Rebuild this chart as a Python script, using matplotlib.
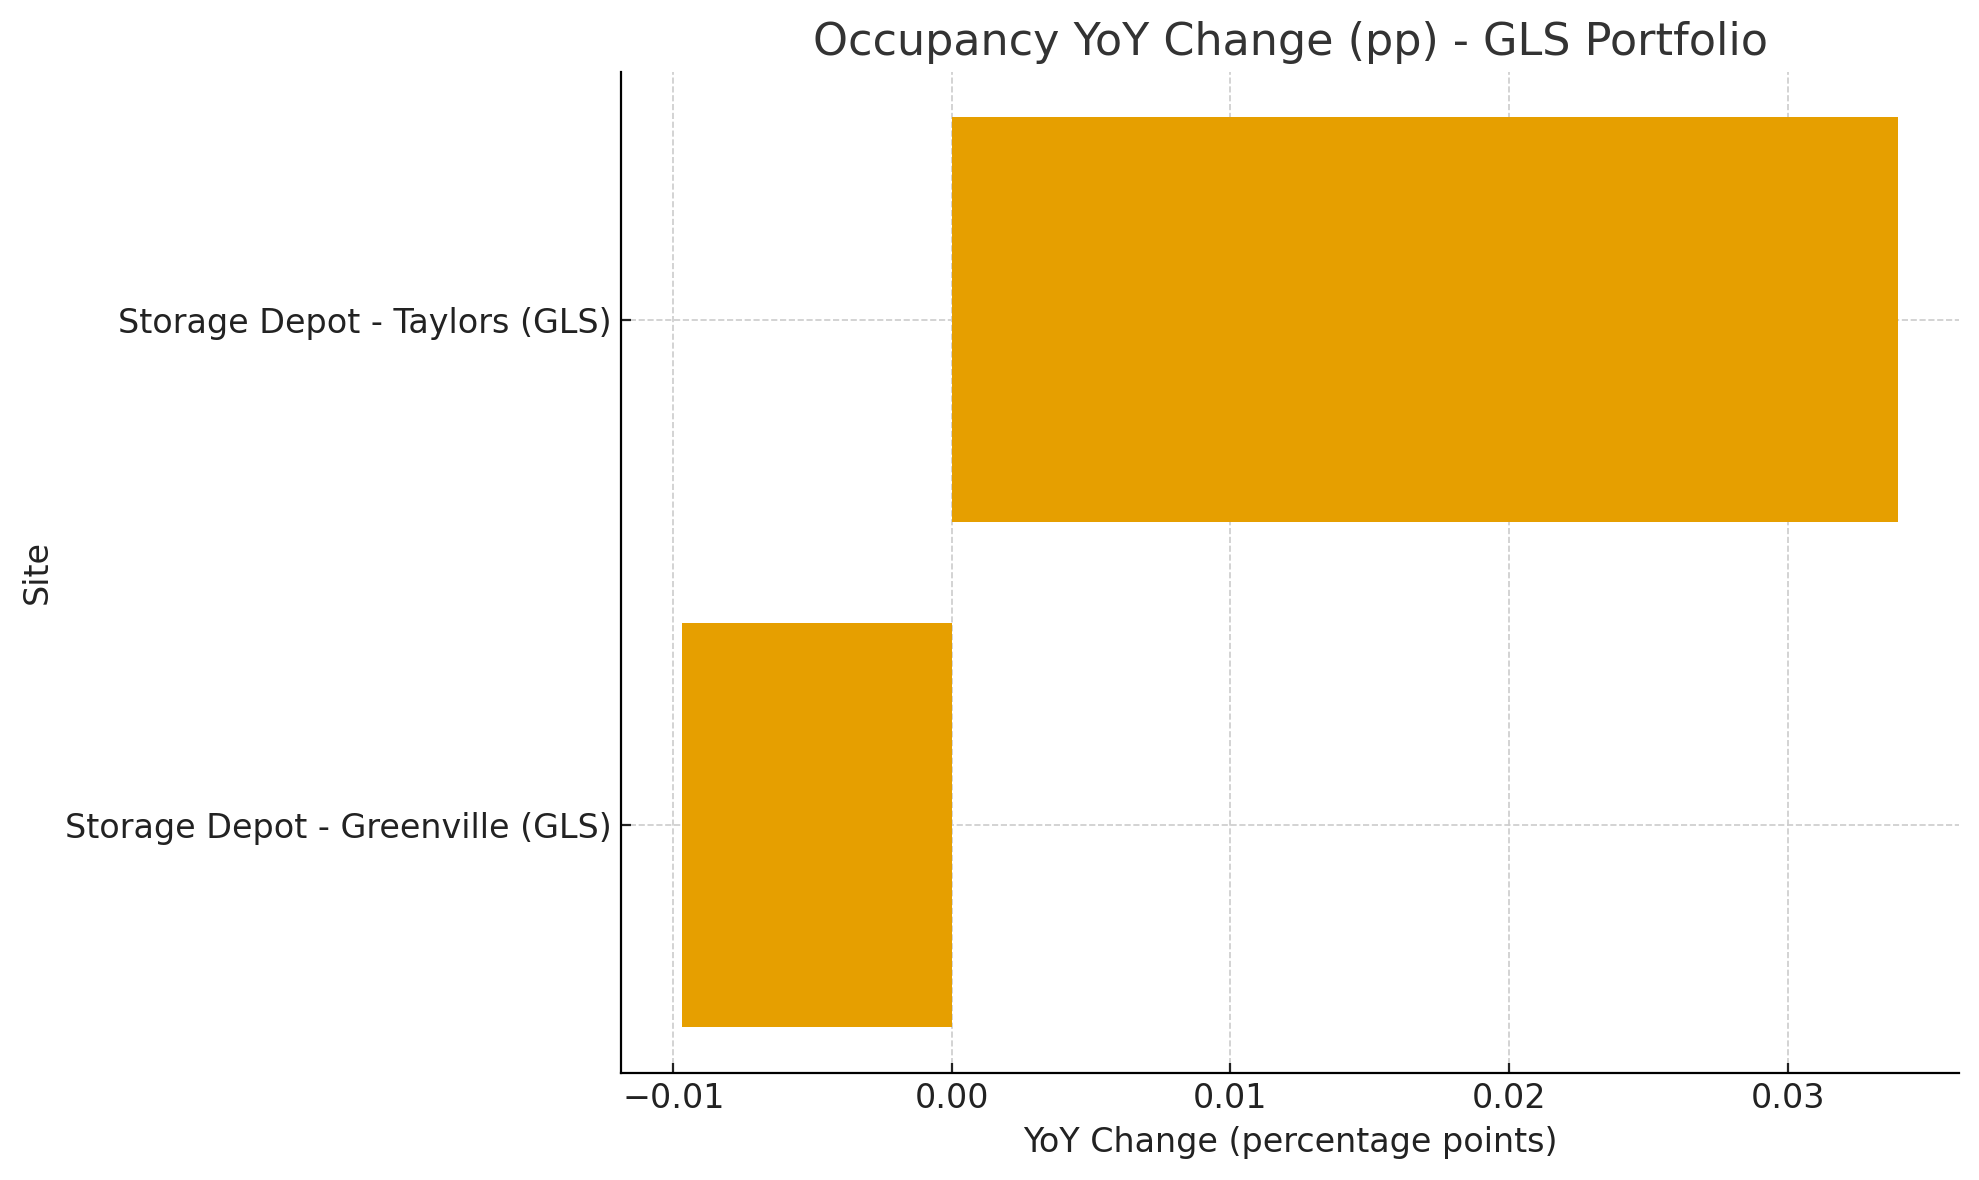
import matplotlib
matplotlib.use("Agg")
import matplotlib.pyplot as plt

# data
sites = ["Storage Depot - Greenville (GLS)", "Storage Depot - Taylors (GLS)"]
yoy_change = [-0.00968, 0.03398]

fig, ax = plt.subplots(figsize=(9.895, 5.9), dpi=200)
ax.barh(sites, yoy_change, color="#E69F00", height=0.8, zorder=2)

ax.set_title("Occupancy YoY Change (pp) - GLS Portfolio", fontsize=16, color="#333333")
ax.set_xlabel("YoY Change (percentage points)", fontsize=12, color="#222222")
ax.set_ylabel("Site", fontsize=12, color="#222222")
ax.tick_params(labelsize=12, colors="#222222", direction="in")
ax.grid(True, linestyle="--", color="#cccccc", linewidth=0.6, zorder=0)
ax.spines["top"].set_visible(False)
ax.spines["right"].set_visible(False)

plt.subplots_adjust(left=0.314, right=0.99, top=0.939, bottom=0.091)
plt.savefig("out.png")
